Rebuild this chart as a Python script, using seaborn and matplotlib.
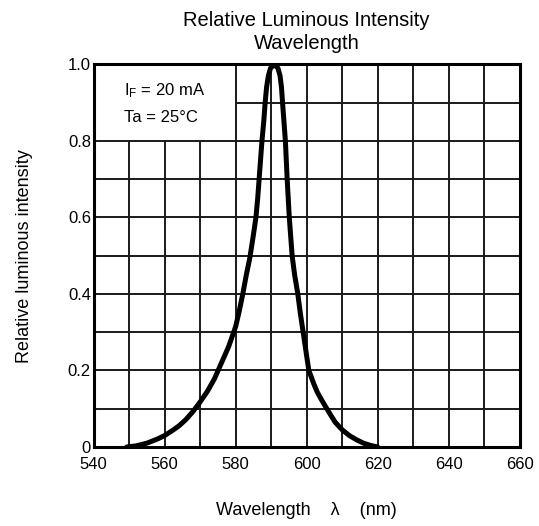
import numpy as np
import pandas as pd
import matplotlib
matplotlib.use('Agg')
import matplotlib.pyplot as plt
import seaborn as sns

# 데이터
wavelength = [549.3, 552, 555, 558, 560, 562, 564, 566, 568, 570, 572, 574, 576, 578,
              580, 581, 582, 583, 584, 585, 585.7, 586.2, 586.6, 587.0, 587.4,
              587.9, 588.3, 588.7, 589.2, 589.8, 590.9, 591.9, 592.5, 592.9, 593.2,
              593.6, 594.0, 594.5, 595.1, 595.9, 596.6, 597.5, 598.2, 599.0, 599.8,
              600.6, 602, 603, 604.2, 606, 608, 610, 612, 614, 616, 618, 620]
intensity = [0.0, 0.003, 0.01, 0.021, 0.03, 0.042, 0.055, 0.072, 0.093, 0.118, 0.145,
             0.178, 0.22, 0.262, 0.315, 0.355, 0.4, 0.45, 0.495, 0.555, 0.6, 0.65,
             0.7, 0.75, 0.8, 0.85, 0.9, 0.94, 0.97, 0.99, 1.0, 0.99, 0.97, 0.94, 0.9,
             0.85, 0.8, 0.7, 0.6, 0.5, 0.45, 0.4, 0.35, 0.3, 0.25, 0.2, 0.165, 0.143,
             0.123, 0.095, 0.065, 0.045, 0.03, 0.019, 0.01, 0.004, 0.0]
x_ticks = [540, 560, 580, 600, 620, 640, 660]
y_ticks = [0, 0.2, 0.4, 0.6, 0.8, 1.0]
y_tick_labels = ['0', '0.2', '0.4', '0.6', '0.8', '1.0']

df = pd.DataFrame({'wavelength': wavelength, 'intensity': intensity})

sns.set_style('white')
plt.rcParams['font.family'] = ['Liberation Sans', 'DejaVu Sans']
plt.rcParams['text.color'] = 'black'
plt.rcParams['axes.labelcolor'] = 'black'

fig = plt.figure(figsize=(5.39, 5.26), dpi=100)
ax = fig.add_axes([0.1738, 0.1502, 0.7904, 0.7274])

# 그리드 (왼쪽 위 조건 박스 영역은 비워 둠)
grid_kw = dict(color='#1a1a1a', linewidth=1.4, zorder=1)
for gx in range(550, 660, 10):
    top = 0.8 if gx < 580 else 1.0
    ax.vlines(gx, 0, top, **grid_kw)
for gy in np.arange(0.1, 1.0, 0.1):
    left = 580 if gy > 0.85 else 540
    ax.hlines(gy, left, 660, **grid_kw)

sns.lineplot(data=df, x='wavelength', y='intensity', ax=ax, color='black',
             linewidth=3.6, zorder=3, solid_joinstyle='round', solid_capstyle='round')

ax.set_xlim(540, 660)
ax.set_ylim(0, 1.0)
ax.set_xticks(x_ticks)
ax.set_xticklabels([str(t) for t in x_ticks])
ax.set_yticks(y_ticks)
ax.set_yticklabels(y_tick_labels)
ax.tick_params(axis='both', length=0, labelsize=12, colors='black')
ax.tick_params(axis='x', pad=7)
ax.tick_params(axis='y', pad=2)

for s in ax.spines.values():
    s.set_visible(True)
    s.set_linewidth(2.2)
    s.set_color('black')
    s.set_zorder(4)

ax.text(548.5, 0.932, r'$\mathregular{I_F}$ = 20 mA', fontsize=12, va='center', ha='left')
ax.text(548.5, 0.862, 'Ta = 25°C', fontsize=12, va='center', ha='left')

ax.set_title('Relative Luminous Intensity\nWavelength', fontsize=14.5, pad=11,
             linespacing=1.3, color='black')
ax.set_xlabel('Wavelength    λ    (nm)', fontsize=13, labelpad=22)
ax.set_ylabel('Relative luminous intensity', fontsize=13, labelpad=25)

fig.savefig('out.png', dpi=100)
